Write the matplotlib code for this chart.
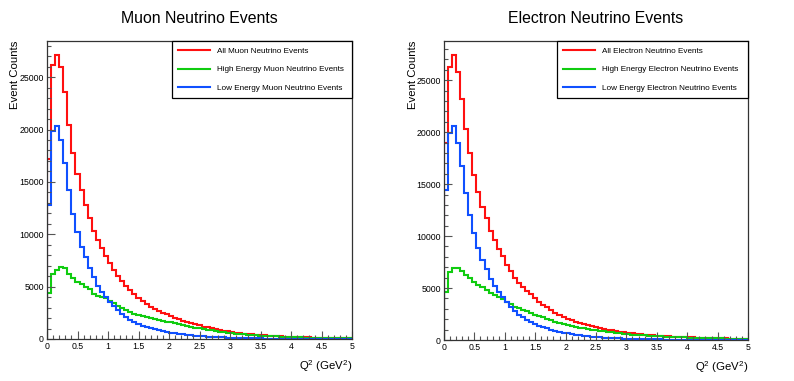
import numpy as np
import matplotlib
matplotlib.use("Agg")
import matplotlib.pyplot as plt
from matplotlib.ticker import MultipleLocator

plt.rcParams['font.family'] = ['Liberation Sans', 'DejaVu Sans']
plt.rcParams['mathtext.default'] = 'regular'

# Q^2 binning: 75 bins between 0 and 5 GeV^2
q2_min, q2_max, n_bins = 0.0, 5.0, 75

# ---- muon neutrino histograms (counts per bin) ----
muon_all = [17200, 26200, 27100, 26000, 23600, 20400, 17800, 15800, 14200, 12800,
            11600, 10300, 9500, 8700, 7900, 7250, 6600, 6050, 5500, 5100,
            4650, 4250, 3950, 3650, 3350, 3050, 2850, 2680, 2500, 2350,
            2200, 2040, 1890, 1750, 1620, 1500, 1390, 1290, 1190, 1100,
            1020, 940, 860, 790, 730, 670, 620, 570, 520, 480,
            440, 405, 374, 342, 318, 294, 270, 247, 226, 211,
            197, 183, 167, 155, 144, 133, 122, 113, 104, 97,
            90, 83, 78, 72, 67]
muon_high = [4400, 6200, 6600, 6900, 6750, 6200, 5800, 5470, 5250, 5000,
             4750, 4300, 4150, 4050, 3880, 3660, 3420, 3180, 2950, 2780,
             2600, 2420, 2280, 2150, 2080, 2000, 1900, 1820, 1740, 1670,
             1590, 1500, 1410, 1320, 1240, 1160, 1090, 1020, 950, 880,
             820, 760, 700, 650, 600, 560, 520, 480, 445, 410,
             380, 350, 325, 300, 280, 260, 240, 220, 205, 190,
             178, 166, 152, 142, 132, 122, 112, 104, 96, 90,
             83, 77, 72, 67, 62]
muon_low = [12800, 19900, 20300, 19000, 16800, 14200, 11900, 10250, 8800, 7800,
            6750, 5900, 5050, 4500, 4050, 3550, 3150, 2780, 2400, 2100,
            1850, 1650, 1450, 1280, 1140, 1020, 910, 820, 740, 670,
            600, 540, 480, 430, 390, 350, 310, 280, 250, 225,
            200, 180, 160, 145, 130, 115, 100, 90, 80, 70,
            62, 55, 49, 43, 38, 34, 30, 27, 24, 21,
            19, 17, 15, 13, 12, 11, 10, 9, 8, 7,
            7, 6, 6, 5, 5]

# ---- electron neutrino histograms (counts per bin) ----
elec_all = [19000, 26300, 27400, 25800, 23200, 20350, 18000, 15900, 14250, 12800,
            11700, 10450, 9650, 8750, 8100, 7250, 6650, 5950, 5450, 5080,
            4750, 4400, 4020, 3700, 3400, 3130, 2850, 2600, 2400, 2220,
            2060, 1920, 1780, 1660, 1550, 1440, 1340, 1250, 1160, 1080,
            1000, 930, 860, 790, 730, 680, 630, 590, 550, 510,
            480, 450, 420, 394, 369, 344, 325, 306, 288, 273,
            257, 242, 228, 214, 202, 191, 180, 171, 160, 151,
            142, 133, 125, 117, 110]
elec_high = [4650, 6500, 6950, 6950, 6650, 6300, 6000, 5550, 5330, 5080,
             4780, 4500, 4330, 4100, 3930, 3650, 3450, 3200, 3050, 2890,
             2750, 2600, 2450, 2320, 2190, 2060, 1900, 1760, 1650, 1540,
             1420, 1350, 1270, 1200, 1140, 1070, 1010, 955, 895, 845,
             790, 740, 690, 640, 595, 560, 522, 494, 464, 433,
             411, 388, 365, 345, 325, 305, 290, 275, 260, 248,
             235, 222, 210, 198, 188, 178, 168, 159, 150, 142,
             134, 126, 118, 111, 104]
elec_low = [14400, 19900, 20600, 19000, 16700, 14150, 12000, 10300, 8850, 7700,
            6850, 5900, 5200, 4650, 4120, 3700, 3170, 2800, 2420, 2190,
            1950, 1750, 1560, 1390, 1240, 1110, 990, 880, 790, 710,
            640, 570, 510, 460, 410, 370, 330, 295, 265, 235,
            210, 190, 170, 150, 135, 120, 108, 96, 86, 77,
            69, 62, 55, 49, 44, 39, 35, 31, 28, 25,
            22, 20, 18, 16, 14, 13, 12, 11, 10, 9,
            8, 7, 7, 6, 6]

colors = ['#ff1010', '#10cc10', '#1050ff']
edges = np.linspace(q2_min, q2_max, n_bins + 1)


def draw_panel(ax, title, hists, labels, legend_x0):
    for vals, lab, col in zip(hists, labels, colors):
        ax.stairs(vals, edges, baseline=0, color=col, lw=1.5, label=lab)
    ax.set_xlim(q2_min, q2_max)
    ax.set_ylim(0, 1.05 * max(hists[0]))
    ax.xaxis.set_major_locator(MultipleLocator(0.5))
    ax.xaxis.set_minor_locator(MultipleLocator(0.1))
    ax.yaxis.set_major_locator(MultipleLocator(5000))
    ax.yaxis.set_minor_locator(MultipleLocator(1000))
    ax.xaxis.set_major_formatter(plt.FuncFormatter(lambda v, p: f'{v:g}'))
    ax.tick_params(which='both', direction='in', top=False, right=False,
                   labelsize=6.3, color='#555555', pad=2.2)
    ax.tick_params(which='major', length=6, width=0.8)
    ax.tick_params(which='minor', length=3, width=0.8)
    for sp in ax.spines.values():
        sp.set_color('#333333')
        sp.set_linewidth(0.9)
    ax.set_title(title, fontsize=11.4, pad=13)
    ax.set_ylabel('Event Counts', fontsize=8.2, loc='top')
    ax.yaxis.set_label_coords(-0.087, 1.0)
    ax.set_xlabel('Q$^{2}$ (GeV$^{2}$)', fontsize=8.2, loc='right')
    ax.xaxis.set_label_coords(1.0, -0.065)
    leg = ax.legend(loc='upper right', bbox_to_anchor=(legend_x0, 0.805, 1 - legend_x0, 0.195),
                    mode='expand', borderaxespad=0, fontsize=5.85, handlelength=3.9,
                    handletextpad=0.85, labelspacing=1.35, fancybox=False,
                    edgecolor='black', framealpha=1, borderpad=0.75)
    leg.get_frame().set_linewidth(0.9)


fig = plt.figure(figsize=(7.94, 3.81), dpi=100)
ax1 = fig.add_axes([47 / 794, 42 / 381, 305 / 794, 298 / 381])
ax2 = fig.add_axes([444 / 794, 41 / 381, 304 / 794, 299 / 381])

draw_panel(ax1, 'Muon Neutrino Events', [muon_all, muon_high, muon_low],
           ['All Muon Neutrino Events', 'High Energy Muon Neutrino Events',
            'Low Energy Muon Neutrino Events'], 0.41)
draw_panel(ax2, 'Electron Neutrino Events', [elec_all, elec_high, elec_low],
           ['All Electron Neutrino Events', 'High Energy Electron Neutrino Events',
            'Low Energy Electron Neutrino Events'], 0.372)

fig.savefig('out.png', dpi=100)
